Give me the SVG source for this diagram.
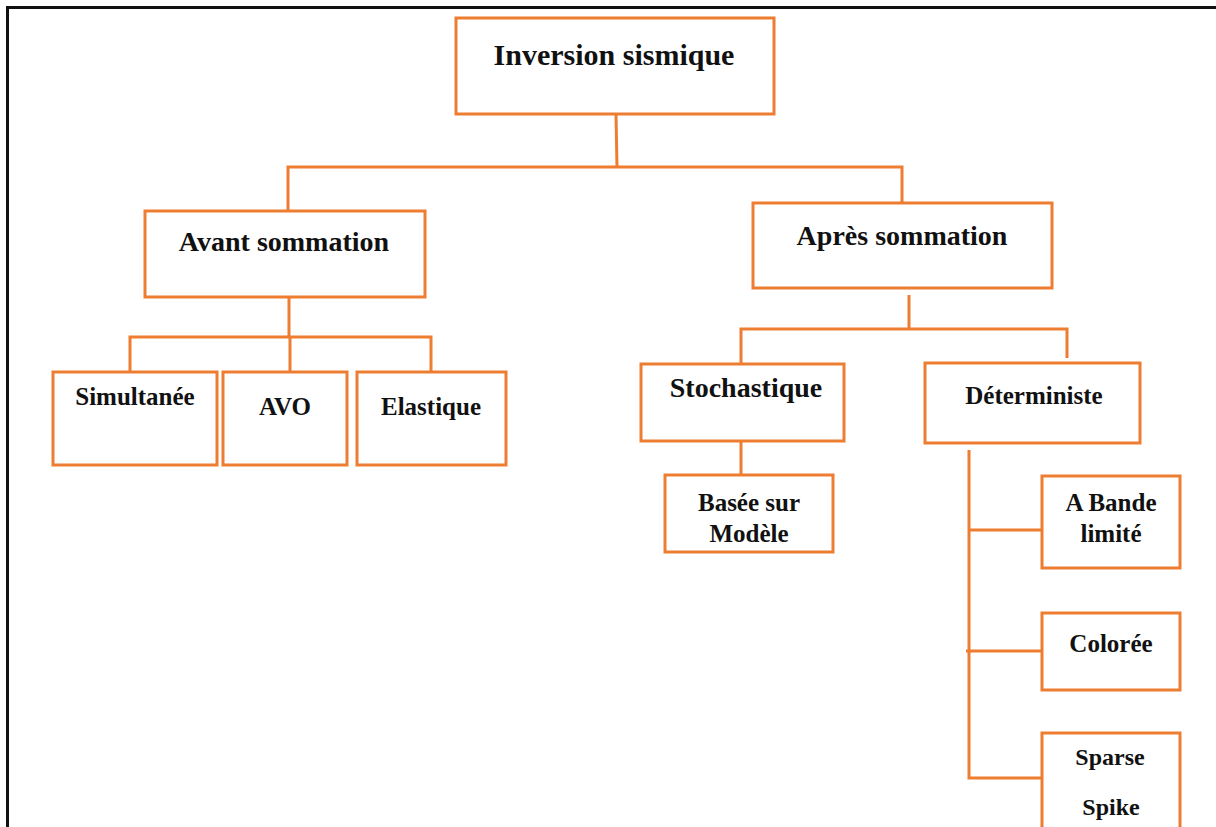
<svg xmlns="http://www.w3.org/2000/svg" width="1216" height="827" viewBox="0 0 1216 827">
  <style>
    .box { fill: #ffffff; stroke: #ED7D31; stroke-width: 3; }
    .wire { fill: none; stroke: #ED7D31; stroke-width: 3; }
    .frame { fill: none; stroke: #111111; stroke-width: 3; }
    text { font-family: "Liberation Serif", "Times New Roman", serif; font-weight: bold; fill: #111111; text-anchor: middle; }
    .t30 { font-size: 30px; }
    .t28 { font-size: 28px; }
    .t25 { font-size: 25px; }
    .t24 { font-size: 24px; }
  </style>
  <rect width="1216" height="827" fill="#ffffff"/>

  <!-- page frame -->
  <path class="frame" d="M7.5,827 V7.5 H1216"/>

  <!-- connectors -->
  <g id="connectors">
    <path class="wire" d="M616,115 L617,167"/>
    <path class="wire" d="M288,211 V167 H902 V203"/>
    <path class="wire" d="M289,298 V337"/>
    <path class="wire" d="M130,372 V337 H431 V372"/>
    <path class="wire" d="M290,337 V372"/>
    <path class="wire" d="M909,295 V329"/>
    <path class="wire" d="M741,364 V329 H1067 V358"/>
    <path class="wire" d="M741,442 V475"/>
    <path class="wire" d="M969,450 V778 H1042"/>
    <path class="wire" d="M969,530 H1042"/>
    <path class="wire" d="M966,651 H1042"/>
  </g>

  <g id="inversion-sismique">
    <rect class="box" x="456" y="18" width="318" height="96"/>
    <text class="t30" x="614" y="65">Inversion sismique</text>
  </g>

  <g id="avant-sommation">
    <rect class="box" x="145" y="211" width="280" height="86"/>
    <text class="t28" x="284" y="251">Avant sommation</text>
  </g>

  <g id="apres-sommation">
    <rect class="box" x="753" y="203" width="299" height="85"/>
    <text class="t28" x="902" y="245">Après sommation</text>
  </g>

  <g id="simultanee">
    <rect class="box" x="53" y="372" width="164" height="93"/>
    <text class="t25" x="135" y="405">Simultanée</text>
  </g>

  <g id="avo">
    <rect class="box" x="223" y="372" width="124" height="93"/>
    <text class="t25" x="285" y="415">AVO</text>
  </g>

  <g id="elastique">
    <rect class="box" x="357" y="372" width="149" height="93"/>
    <text class="t25" x="431" y="415">Elastique</text>
  </g>

  <g id="stochastique">
    <rect class="box" x="641" y="364" width="203" height="77"/>
    <text class="t28" x="746" y="397">Stochastique</text>
  </g>

  <g id="deterministe">
    <rect class="box" x="925" y="363" width="215" height="80"/>
    <text class="t25" x="1034" y="404">Déterministe</text>
  </g>

  <g id="basee-sur-modele">
    <rect class="box" x="665" y="475" width="168" height="77"/>
    <text class="t25" x="749" y="511">Basée sur</text>
    <text class="t25" x="749" y="542">Modèle</text>
  </g>

  <g id="bande-limite">
    <rect class="box" x="1042" y="476" width="138" height="92"/>
    <text class="t25" x="1111" y="511">A Bande</text>
    <text class="t25" x="1111" y="542">limité</text>
  </g>

  <g id="coloree">
    <rect class="box" x="1042" y="613" width="138" height="77"/>
    <text class="t25" x="1111" y="652">Colorée</text>
  </g>

  <g id="sparse-spike">
    <rect class="box" x="1042" y="733" width="138" height="110"/>
    <text class="t24" x="1110" y="765">Sparse</text>
    <text class="t24" x="1111" y="815">Spike</text>
  </g>
</svg>
